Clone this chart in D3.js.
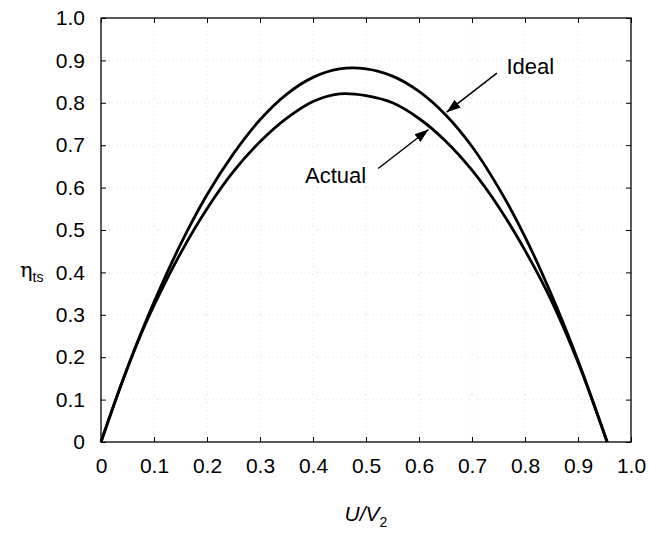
<!DOCTYPE html>
<html><head><meta charset="utf-8">
<script src="https://cdn.jsdelivr.net/npm/d3@7"></script>
<style>
html,body{margin:0;padding:0;background:#fff;}
text{font-family:"Liberation Sans",Arial,sans-serif;fill:#000;}
</style></head>
<body>
<svg id="chart" width="649" height="536"></svg>
<script>
// ---- data ----
const ratio = [0, 0.025, 0.05, 0.075, 0.1, 0.15, 0.2, 0.25, 0.3, 0.35, 0.4, 0.45, 0.5, 0.55, 0.6, 0.65, 0.7, 0.75, 0.8, 0.85, 0.9, 0.955];
const ideal = [0, 0.09, 0.175, 0.255, 0.330, 0.466, 0.583, 0.680, 0.760, 0.820, 0.860, 0.880, 0.880, 0.863, 0.827, 0.772, 0.697, 0.600, 0.484, 0.347, 0.192, 0];
const actual = [0, 0.09, 0.175, 0.253, 0.322, 0.445, 0.550, 0.638, 0.708, 0.763, 0.803, 0.821, 0.817, 0.800, 0.763, 0.710, 0.641, 0.555, 0.452, 0.333, 0.188, 0];
const xTicks = [0, 0.1, 0.2, 0.3, 0.4, 0.5, 0.6, 0.7, 0.8, 0.9, 1.0];
const yTicks = [0, 0.1, 0.2, 0.3, 0.4, 0.5, 0.6, 0.7, 0.8, 0.9, 1.0];
const xTickLabels = ["0", "0.1", "0.2", "0.3", "0.4", "0.5", "0.6", "0.7", "0.8", "0.9", "1.0"];
const yTickLabels = ["0", "0.1", "0.2", "0.3", "0.4", "0.5", "0.6", "0.7", "0.8", "0.9", "1.0"];
// annotations (data coordinates)
const labelNames = ["Ideal", "Actual"];
const labelPos = [[0.765, 0.869], [0.385, 0.610]];
const arrowFrom = [[0.747, 0.870], [0.523, 0.645]];
const arrowTo = [[0.652, 0.778], [0.618, 0.737]];

// ---- layout ----
const margin = {left: 101, top: 18, right: 18, bottom: 94};
const W = 649, H = 536;
const iw = W - margin.left - margin.right, ih = H - margin.top - margin.bottom;
const svg = d3.select("#chart");
const g = svg.append("g").attr("transform", `translate(${margin.left},${margin.top})`);
const x = d3.scaleLinear().domain([0, 1]).range([0, iw]);
const y = d3.scaleLinear().domain([0, 1]).range([ih, 0]);

// grid
g.append("g").selectAll("line").data(xTicks.slice(1, -1)).join("line")
  .attr("x1", d => x(d)).attr("x2", d => x(d)).attr("y1", 0).attr("y2", ih)
  .attr("stroke", "#d6d6d6").attr("stroke-width", 1).attr("stroke-dasharray", "1,7");
g.append("g").selectAll("line").data(yTicks.slice(1, -1)).join("line")
  .attr("y1", d => y(d)).attr("y2", d => y(d)).attr("x1", 0).attr("x2", iw)
  .attr("stroke", "#d6d6d6").attr("stroke-width", 1).attr("stroke-dasharray", "1,7");

// axes
const fmtX = (d, i) => xTickLabels[i];
const fmtY = (d, i) => yTickLabels[i];
const styleAxis = sel => {
  sel.select(".domain").remove();
  sel.selectAll("line").attr("stroke", "#000").attr("stroke-width", 1);
  sel.selectAll("text").style("font-size", "21px").attr("fill", "#000");
};
g.append("g").attr("transform", `translate(0,${ih})`)
  .call(d3.axisBottom(x).tickValues(xTicks).tickFormat(fmtX).tickSize(-5).tickPadding(16)).call(styleAxis);
g.append("g")
  .call(d3.axisLeft(y).tickValues(yTicks).tickFormat(fmtY).tickSize(-5).tickPadding(16)).call(styleAxis);
g.append("g")
  .call(d3.axisTop(x).tickValues(xTicks).tickFormat("").tickSize(-5)).call(styleAxis);
g.append("g").attr("transform", `translate(${iw},0)`)
  .call(d3.axisRight(y).tickValues(yTicks).tickFormat("").tickSize(-5)).call(styleAxis);

// frame
g.append("rect").attr("x", 0).attr("y", 0).attr("width", iw).attr("height", ih)
  .attr("fill", "none").attr("stroke", "#000").attr("stroke-width", 1.3);

// curves
const line = d3.line().x(d => x(d[0])).y(d => y(d[1])).curve(d3.curveCatmullRom.alpha(0.5));
[ideal, actual].forEach(series => {
  g.append("path").datum(ratio.map((r, i) => [r, series[i]]))
    .attr("d", line).attr("fill", "none").attr("stroke", "#000").attr("stroke-width", 2.8);
});

// arrows
svg.append("defs").append("marker").attr("id", "ah")
  .attr("viewBox", "0 0 10 10").attr("refX", 10).attr("refY", 5)
  .attr("markerWidth", 14).attr("markerHeight", 14).attr("markerUnits", "userSpaceOnUse")
  .attr("orient", "auto")
  .append("path").attr("d", "M0,1.5 L10,5 L0,8.5 Z").attr("fill", "#000");
arrowFrom.forEach((p, i) => {
  g.append("line").attr("x1", x(p[0])).attr("y1", y(p[1]))
    .attr("x2", x(arrowTo[i][0])).attr("y2", y(arrowTo[i][1]))
    .attr("stroke", "#000").attr("stroke-width", 1.5).attr("marker-end", "url(#ah)");
});
labelNames.forEach((t, i) => {
  g.append("text").attr("x", x(labelPos[i][0])).attr("y", y(labelPos[i][1]))
    .style("font-size", "22px").text(t);
});

// axis titles
const xt = svg.append("text").attr("x", margin.left + x(0.5)).attr("y", 521)
  .attr("text-anchor", "middle").style("font-size", "21px");
xt.append("tspan").style("font-style", "italic").text("U/V");
xt.append("tspan").attr("dy", 6).style("font-size", "14px").text("2");

const yt = svg.append("text").attr("x", 20).attr("y", 277).style("font-size", "21px");
yt.append("tspan").style("font-family", "'DejaVu Serif',serif").text("η");
yt.append("tspan").attr("dy", 5).style("font-size", "14px").text("ts");
</script>
</body></html>
